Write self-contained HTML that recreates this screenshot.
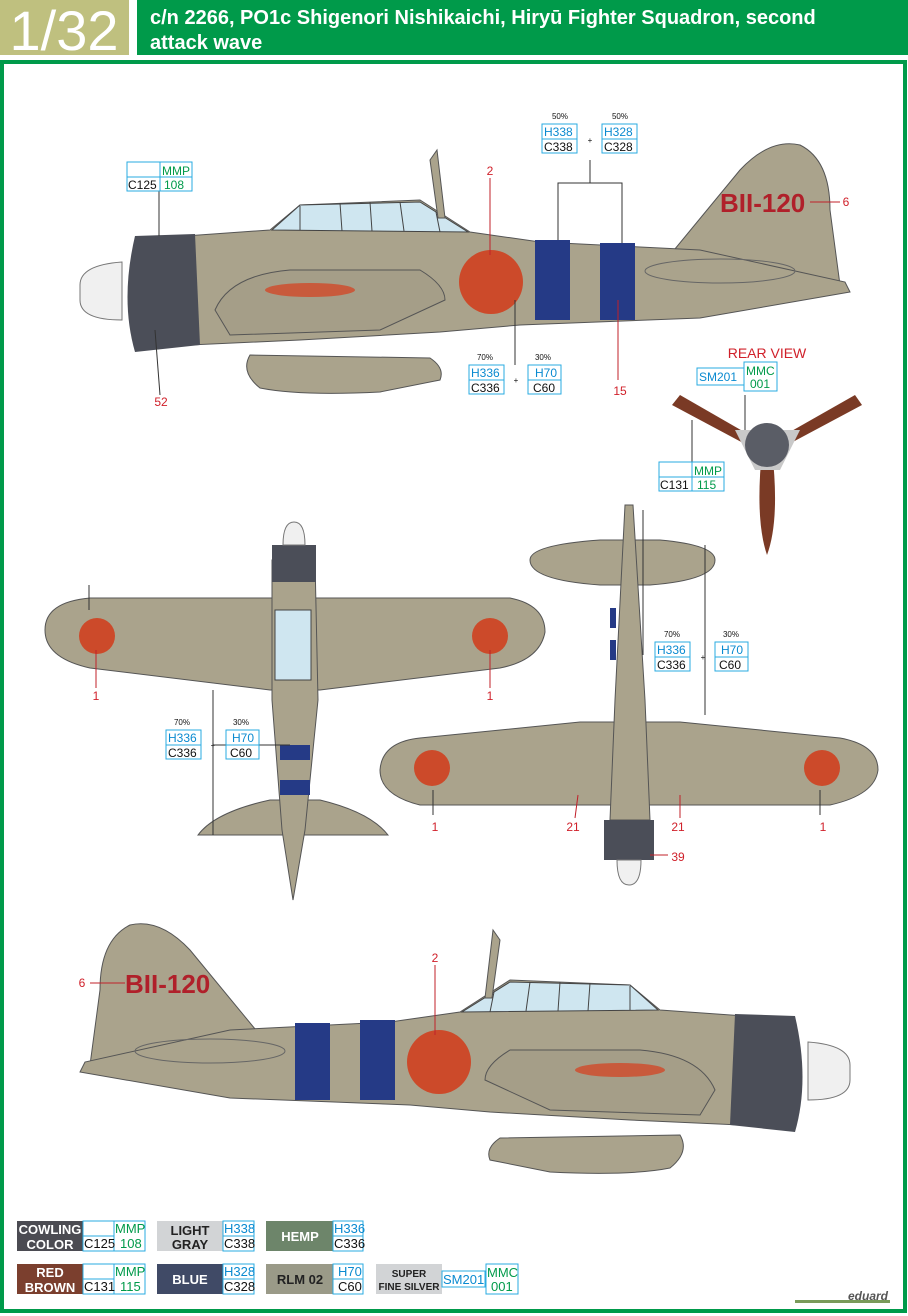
<!DOCTYPE html>
<html><head><meta charset="utf-8"><style>
body{margin:0;width:908px;height:1316px;background:#fff;overflow:hidden;font-family:"Liberation Sans",Arial,sans-serif}
svg{display:block}
</style></head><body>
<svg width="908" height="1316" viewBox="0 0 908 1316" xmlns="http://www.w3.org/2000/svg" font-family="Liberation Sans, Arial, sans-serif">
<rect x="0" y="0" width="129" height="55" fill="#bfc07f"/>
<text x="64" y="50" font-size="56" fill="#fff" text-anchor="middle">1/32</text>
<rect x="137" y="0" width="771" height="55" fill="#009a4a"/>
<text x="150" y="24" font-size="20" font-weight="bold" fill="#fff">c/n 2266, PO1c Shigenori Nishikaichi, Hiryū Fighter Squadron, second</text>
<text x="150" y="49" font-size="20" font-weight="bold" fill="#fff">attack wave</text>
<rect x="2" y="62" width="903" height="1249" fill="none" stroke="#009a4a" stroke-width="4"/>

<defs>
<g id="side">
 <path d="M250,355 Q240,372 260,388 Q300,396 380,392 L440,380 Q445,368 430,358 Z" fill="#aaa38c" stroke="#555" stroke-width="1"/>
 <path d="M670,255 L740,170 Q770,138 800,145 Q830,160 830,210 L840,285 L670,290 Z" fill="#aaa38c" stroke="#555"/>
 <path d="M185,236 L270,230 L300,205 L420,200 L470,232 L540,242 L700,250 L845,282 L850,292 L700,318 L520,325 L440,332 L300,340 L190,345 Z" fill="#aaa38c" stroke="#555"/>
 <path d="M272,230 L300,205 L420,202 L468,232 Z" fill="#cfe6f0" stroke="#444"/>
 <path d="M300,206 L300,230 M340,203 L342,231 M370,202 L372,231 M400,202 L404,231 M436,212 L440,232" stroke="#444"/>
 <path d="M215,310 Q230,275 290,270 L420,270 Q445,285 445,300 L380,330 L230,335 Z" fill="#a59e88" stroke="#555"/>
 <ellipse cx="310" cy="290" rx="45" ry="7" fill="#c85a3c"/>
 <path d="M135,236 L195,234 L200,345 L135,352 Q120,300 135,236 Z" fill="#4b4e58"/>
 <path d="M80,285 Q80,265 122,262 L122,320 Q80,320 80,300 Z" fill="#f0f0f0" stroke="#777"/>
 <circle cx="491" cy="282" r="32" fill="#cc4a2a"/>
 <rect x="535" y="240" width="35" height="80" fill="#253a86"/>
 <rect x="600" y="243" width="35" height="77" fill="#253a86"/>
 <ellipse cx="720" cy="271" rx="75" ry="12" fill="none" stroke="#666"/>
 <path d="M430,160 L437,150 L445,218 L438,218 Z" fill="#aaa38c" stroke="#555"/>
</g>
</defs>
<use href="#side"/>
<text x="720" y="212" font-size="26" fill="#b0202a" font-weight="bold">BII-120</text>
<g transform="translate(930,0) scale(-1,1) translate(0,780)"><use href="#side"/></g>
<text x="125" y="993" font-size="26" fill="#b0202a" font-weight="bold">BII-120</text>

<path d="M767,445 L680,395 L672,405 L760,452 Z" fill="#7a3a25"/>
<path d="M767,445 L855,395 L862,405 L774,452 Z" fill="#7a3a25"/>
<path d="M762,450 Q755,520 767,555 Q780,520 772,450 Z" fill="#7a3a25"/>
<path d="M735,430 L800,430 L780,470 L755,470 Z" fill="#c9c9c9"/>
<circle cx="767" cy="445" r="22" fill="#5a5d66"/>
<text x="767" y="358" font-size="14" fill="#d0202a" text-anchor="middle">REAR VIEW</text>

<path d="M45,630 Q45,602 90,598 L510,598 Q545,605 545,632 Q540,660 500,668 L320,690 L270,690 L90,668 Q45,658 45,630 Z" fill="#aaa38c" stroke="#555"/>
<path d="M198,835 Q215,812 270,800 L320,800 Q370,812 388,835 Z" fill="#aaa38c" stroke="#555"/>
<path d="M272,560 L315,560 L318,700 L305,830 L293,900 L282,830 L272,700 Z" fill="#aaa38c" stroke="#555"/>
<rect x="275" y="610" width="36" height="70" fill="#cfe6f0" stroke="#444"/>
<path d="M272,545 L316,545 L316,582 L272,582 Z" fill="#4b4e58"/>
<path d="M283,545 Q283,522 294,522 Q305,522 305,545 Z" fill="#f0f0f0" stroke="#777"/>
<rect x="280" y="745" width="30" height="15" fill="#253a86"/>
<rect x="280" y="780" width="30" height="15" fill="#253a86"/>
<circle cx="97" cy="636" r="18" fill="#cc4a2a"/>
<circle cx="490" cy="636" r="18" fill="#cc4a2a"/>

<path d="M380,770 Q382,742 420,738 L580,722 L680,722 L840,738 Q878,745 878,770 Q875,795 830,805 L420,805 Q380,795 380,770 Z" fill="#aaa38c" stroke="#555"/>
<path d="M530,560 Q530,545 600,540 L660,540 Q715,545 715,560 Q715,580 650,585 L600,585 Q530,580 530,560 Z" fill="#aaa38c" stroke="#555"/>
<path d="M625,505 L633,505 L645,700 L650,820 L610,820 L615,700 Z" fill="#aaa38c" stroke="#555"/>
<rect x="610" y="608" width="6" height="20" fill="#253a86"/>
<rect x="610" y="640" width="6" height="20" fill="#253a86"/>
<path d="M604,820 L654,820 L654,860 L604,860 Z" fill="#4b4e58"/>
<path d="M617,860 Q617,885 629,885 Q641,885 641,860 Z" fill="#f0f0f0" stroke="#777"/>
<circle cx="432" cy="768" r="18" fill="#cc4a2a"/>
<circle cx="822" cy="768" r="18" fill="#cc4a2a"/>

<g stroke="#333" stroke-width="1" fill="none">
<path d="M558,240 L558,183 L622,183 L622,243 M590,183 L590,160"/>
<path d="M515,300 L515,365"/><path d="M159,190 L159,236"/><path d="M155,330 L160,395"/>
<path d="M745,395 L745,430"/><path d="M692,462 L692,420"/>
<path d="M213,690 L213,835 M213,745 L290,745"/>
<path d="M643,655 L643,510 M705,655 L705,545 M705,655 L705,715"/>
<path d="M89,585 L89,610"/><path d="M433,790 L433,815"/><path d="M820,790 L820,815"/>
</g>
<g stroke="#c0202a" stroke-width="1" fill="none">
<path d="M490,178 L490,255"/><path d="M810,202 L840,202"/><path d="M618,300 L618,380"/>
<path d="M435,965 L435,1035"/><path d="M90,983 L125,983"/><path d="M650,855 L668,855"/>
<path d="M96,650 L96,688"/><path d="M490,650 L490,688"/><path d="M578,795 L575,818"/><path d="M680,795 L680,818"/>
</g>
<g font-size="12" fill="#d0202a" text-anchor="middle">
<text x="490" y="175">2</text><text x="846" y="206">6</text><text x="620" y="395">15</text><text x="161" y="406">52</text>
<text x="435" y="962">2</text><text x="82" y="987">6</text>
<text x="96" y="700">1</text><text x="490" y="700">1</text><text x="435" y="831">1</text><text x="823" y="831">1</text>
<text x="573" y="831">21</text><text x="678" y="831">21</text><text x="678" y="861">39</text>
</g>

<g font-size="12">
<g stroke="#29abe2" stroke-width="1" fill="#fff">
<rect x="127" y="162" width="33" height="15"/><rect x="160" y="162" width="32" height="15"/><rect x="127" y="177" width="33" height="14"/><rect x="160" y="177" width="32" height="14"/>
<rect x="542" y="124" width="35" height="15"/><rect x="542" y="139" width="35" height="14"/>
<rect x="602" y="124" width="35" height="15"/><rect x="602" y="139" width="35" height="14"/>
<rect x="469" y="365" width="35" height="15"/><rect x="469" y="380" width="35" height="14"/>
<rect x="528" y="365" width="33" height="15"/><rect x="528" y="380" width="33" height="14"/>
<rect x="697" y="368" width="47" height="17"/><rect x="744" y="362" width="33" height="29"/>
<rect x="659" y="462" width="33" height="15"/><rect x="692" y="462" width="32" height="15"/><rect x="659" y="477" width="33" height="14"/><rect x="692" y="477" width="32" height="14"/>
<rect x="166" y="730" width="35" height="15"/><rect x="166" y="745" width="35" height="14"/>
<rect x="226" y="730" width="33" height="15"/><rect x="226" y="745" width="33" height="14"/>
<rect x="655" y="642" width="35" height="15"/><rect x="655" y="657" width="35" height="14"/>
<rect x="715" y="642" width="33" height="15"/><rect x="715" y="657" width="33" height="14"/>
</g>
<g fill="#009a4a"><text x="162" y="175">MMP</text><text x="164" y="189">108</text><text x="694" y="475">MMP</text><text x="697" y="489">115</text><text x="746" y="375">MMC</text><text x="750" y="388">001</text></g>
<g fill="#0a8ad0"><text x="544" y="136">H338</text><text x="604" y="136">H328</text><text x="471" y="377">H336</text><text x="535" y="377">H70</text><text x="699" y="381">SM201</text><text x="168" y="742">H336</text><text x="232" y="742">H70</text><text x="657" y="654">H336</text><text x="721" y="654">H70</text></g>
<g fill="#111"><text x="128" y="189">C125</text><text x="544" y="151">C338</text><text x="604" y="151">C328</text><text x="471" y="392">C336</text><text x="533" y="392">C60</text><text x="660" y="489">C131</text><text x="168" y="757">C336</text><text x="230" y="757">C60</text><text x="657" y="669">C336</text><text x="719" y="669">C60</text></g>
<g font-size="8" fill="#111" text-anchor="middle"><text x="560" y="119">50%</text><text x="620" y="119">50%</text><text x="485" y="360">70%</text><text x="543" y="360">30%</text><text x="182" y="725">70%</text><text x="241" y="725">30%</text><text x="672" y="637">70%</text><text x="731" y="637">30%</text>
<text x="590" y="143">+</text><text x="516" y="383">+</text><text x="213" y="748">+</text><text x="703" y="660">+</text></g>
</g>

<!-- legend -->
<g font-size="13" font-weight="bold" fill="#fff" text-anchor="middle">
<rect x="17" y="1221" width="66" height="30" fill="#4b4b52"/><text x="50" y="1234">COWLING</text><text x="50" y="1249">COLOR</text>
<rect x="17" y="1264" width="66" height="30" fill="#7b3f2e"/><text x="50" y="1277">RED</text><text x="50" y="1292">BROWN</text>
<rect x="157" y="1221" width="66" height="30" fill="#d2d4d6"/><text x="190" y="1235" fill="#222">LIGHT</text><text x="190" y="1249" fill="#222">GRAY</text>
<rect x="157" y="1264" width="66" height="30" fill="#404a66"/><text x="190" y="1284">BLUE</text>
<rect x="266" y="1221" width="67" height="30" fill="#6d856a"/><text x="300" y="1241">HEMP</text>
<rect x="266" y="1264" width="67" height="30" fill="#9a9a88"/><text x="300" y="1284" fill="#222">RLM 02</text>
<rect x="376" y="1264" width="66" height="30" fill="#d2d4d6"/><text x="409" y="1277" fill="#222" font-size="10">SUPER</text><text x="409" y="1290" fill="#222" font-size="10">FINE SILVER</text>
</g>
<g stroke="#29abe2" fill="#fff">
<rect x="83" y="1221" width="31" height="15"/><rect x="83" y="1236" width="31" height="15"/><rect x="114" y="1221" width="31" height="30"/>
<rect x="83" y="1264" width="31" height="15"/><rect x="83" y="1279" width="31" height="15"/><rect x="114" y="1264" width="31" height="30"/>
<rect x="223" y="1221" width="31" height="15"/><rect x="223" y="1236" width="31" height="15"/>
<rect x="223" y="1264" width="31" height="15"/><rect x="223" y="1279" width="31" height="15"/>
<rect x="333" y="1221" width="30" height="15"/><rect x="333" y="1236" width="30" height="15"/>
<rect x="333" y="1264" width="30" height="15"/><rect x="333" y="1279" width="30" height="15"/>
<rect x="442" y="1271" width="43" height="16"/><rect x="486" y="1264" width="32" height="30"/>
</g>
<g font-size="13">
<text x="84" y="1248" fill="#111">C125</text><text x="115" y="1233" fill="#009a4a">MMP</text><text x="120" y="1248" fill="#009a4a">108</text>
<text x="84" y="1291" fill="#111">C131</text><text x="115" y="1276" fill="#009a4a">MMP</text><text x="120" y="1291" fill="#009a4a">115</text>
<text x="224" y="1233" fill="#0a8ad0">H338</text><text x="224" y="1248" fill="#111">C338</text>
<text x="224" y="1276" fill="#0a8ad0">H328</text><text x="224" y="1291" fill="#111">C328</text>
<text x="334" y="1233" fill="#0a8ad0">H336</text><text x="334" y="1248" fill="#111">C336</text>
<text x="338" y="1276" fill="#0a8ad0">H70</text><text x="338" y="1291" fill="#111">C60</text>
<text x="443" y="1284" fill="#0a8ad0">SM201</text><text x="487" y="1277" fill="#009a4a">MMC</text><text x="491" y="1291" fill="#009a4a">001</text>
</g>
<text x="888" y="1300" font-size="12" fill="#555" text-anchor="end" font-style="italic" font-weight="bold">eduard</text>
<rect x="795" y="1300" width="95" height="3" fill="#7a9a5a"/>
</svg>
</body></html>
